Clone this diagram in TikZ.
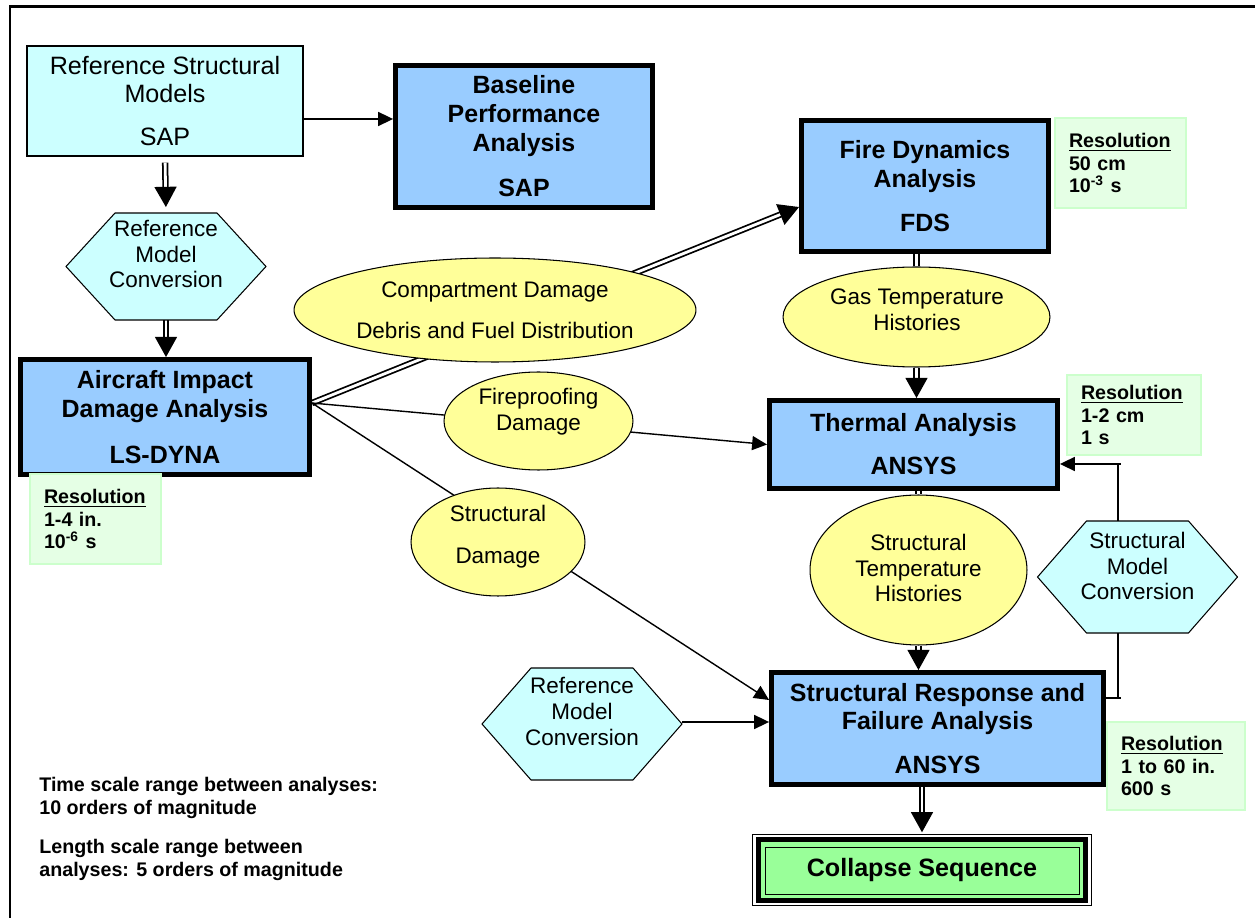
\documentclass[tikz,border=0pt]{standalone}
\usepackage{fontspec}
\setmainfont{Liberation Sans}
\usetikzlibrary{arrows.meta,shapes.geometric,calc,backgrounds}

\definecolor{boxblue}{HTML}{99CCFF}
\definecolor{boxcyan}{HTML}{CCFFFF}
\definecolor{ellyellow}{HTML}{FFFF99}
\definecolor{resgreen}{HTML}{E5FFE5}
\definecolor{resedge}{HTML}{CCFFCC}
\definecolor{seqgreen}{HTML}{99FF99}

\tikzset{
  analysis/.style={draw, line width=2.8pt, fill=boxblue, align=center, inner sep=0pt,
    font=\fontsize{14.2}{16.4}\selectfont\bfseries},
  refbox/.style={draw, line width=0.8pt, fill=boxcyan, align=center, inner sep=0pt,
    font=\fontsize{14.3}{16.4}\selectfont},
  convhex/.style={inner sep=0pt, outer sep=0pt, minimum width=4cm},
  hexline/.style={draw, line width=0.6pt, fill=boxcyan},
  dataell/.style={ellipse, draw, line width=0.6pt, fill=ellyellow, inner sep=0pt},
  shapetext/.style={align=center, inner sep=0pt, font=\fontsize{12.8}{14.7}\selectfont},
  resbox/.style={draw=resedge, line width=0.6pt, fill=resgreen, align=left,
    text width=#1, inner xsep=0.28cm, inner ysep=0pt,
    font=\fontsize{11.2}{12.6}\selectfont\bfseries},
  seqbox/.style={draw, line width=2.8pt, fill=seqgreen, inner sep=0pt,
    font=\fontsize{14.3}{16.4}\selectfont\bfseries},
  note/.style={align=left, inner sep=0pt, anchor=west,
    font=\fontsize{11.2}{12.6}\selectfont\bfseries},
  arr/.style={line width=0.8pt, -{Triangle[length=8.5pt,width=8pt]}},
  dbl/.style={double, double distance=1.6pt, line width=1pt},
  dblarr/.style={dbl, -{Triangle[length=11.5pt,width=12.5pt]}},
}

% hexagon drawn round an (invisible) conversion node
\newcommand{\hexround}[1]{%
  \filldraw[hexline] (#1.west) -- ($(#1.north west)+(49,0)$) -- ($(#1.north east)+(-49,0)$)
    -- (#1.east) -- ($(#1.south east)+(-49,0)$) -- ($(#1.south west)+(49,0)$) -- cycle;}

\begin{document}
\begin{tikzpicture}[x={(0.02cm,0)}, y={(0,-0.02cm)}]
  \useasboundingbox (0,0) rectangle (1255,918);
  \clip (0,0) rectangle (1255,918);

  % Outer frame, runs off the page at right and bottom
  \draw[line width=1.7pt] (10,940) -- (10,7) -- (1280,7);

  % Models and analyses
  \node[refbox, minimum width=5.52cm, minimum height=2.2cm] (refmod) at (165,101) {Reference Structural\\Models\\[8pt]SAP};
  \node[analysis, minimum width=5.14cm, minimum height=2.84cm] (baseline) at (524,136.5) {Baseline\\Performance\\Analysis\\[9.5pt]SAP};
  \node[analysis, minimum width=5.78cm, minimum height=2.3cm] (aircraft) at (165,417) {Aircraft Impact\\Damage Analysis\\[10pt]LS-DYNA};
  \node[analysis, minimum width=4.94cm, minimum height=2.62cm] (fds) at (925,186) {Fire Dynamics\\Analysis\\[8.5pt]FDS};
  \node[analysis, minimum width=5.76cm, minimum height=1.76cm] (thermal) at (913.5,444.5) {Thermal Analysis\\[8pt]ANSYS};
  \node[analysis, minimum width=6.64cm, minimum height=2.24cm] (response) at (937.5,728.5) {Structural Response and\\Failure Analysis\\[8.5pt]ANSYS};

  % Model conversions
  \node[convhex, minimum height=2.14cm] (conv1) at (166,266.5) {};
  \node[convhex, minimum height=2.24cm] (conv2) at (582,724) {};
  \node[convhex, minimum height=2.24cm] (conv3) at (1137.5,577) {};
  \hexround{conv1}
  \hexround{conv2}
  \hexround{conv3}
  \node[shapetext] (conv1txt) at (166,254) {Reference\\Model\\Conversion};
  \node[shapetext] (conv2txt) at (582,711.5) {Reference\\Model\\Conversion};
  \node[shapetext] (conv3txt) at (1137.5,566) {Structural\\Model\\Conversion};

  % Data handed between analyses
  \node[dataell, minimum width=8.04cm, minimum height=2.08cm] (ellcomp) at (495,310) {};
  \node[dataell, minimum width=5.34cm, minimum height=2cm] (ellgas) at (916.5,317) {};
  \node[dataell, minimum width=3.78cm, minimum height=1.96cm] (ellfire) at (538.5,421) {};
  \node[dataell, minimum width=3.48cm, minimum height=2.16cm] (ellstruct) at (498,542) {};
  \node[dataell, minimum width=4.34cm, minimum height=3cm] (elltemp) at (918.5,570) {};
  \node[shapetext] (ellcomptxt) at (495,310) {Compartment Damage\\[8.5pt]Debris and Fuel Distribution};
  \node[shapetext] (ellgastxt) at (917,310) {Gas Temperature\\Histories};
  \node[shapetext] (ellfiretxt) at (538.5,412) {Fireproofing\\Damage};
  \node[shapetext] (ellstructtxt) at (498,537) {Structural\\[9pt]Damage};
  \node[shapetext] (elltemptxt) at (918.5,568) {Structural\\Temperature\\Histories};

  % Resolution of each analysis
  \node[resbox=2.06cm, minimum height=1.8cm] (res1) at (95.5,519) {\underline{Resolution}\\1-4 in.\\10\textsuperscript{-6} s};
  \node[resbox=2.06cm, minimum height=1.8cm] (res2) at (1120.5,163) {\underline{Resolution}\\50 cm\\10\textsuperscript{-3} s};
  \node[resbox=2.12cm, minimum height=1.6cm] (res3) at (1134,415) {\underline{Resolution}\\1-2 cm\\1 s};
  \node[resbox=2.2cm, minimum height=1.76cm] (res4) at (1176,766) {\underline{Resolution}\\1 to 60 in.\\600 s};

  % Final result
  \node[seqbox, minimum width=6.55cm, minimum height=1.21cm] (collapse) at (922,870) {Collapse Sequence};
  \draw[line width=0.6pt] ($(collapse.north west)+(-3,-3)$) rectangle ($(collapse.south east)+(3,3)$);
  \draw[line width=0.6pt] ($(collapse.north west)+(10,10)$) rectangle ($(collapse.south east)+(-9,-8)$);

  % Scale notes
  \node[note] (timenote) at (39,798) {Time scale range between analyses:\\10 orders of magnitude};
  \node[note] (lengthnote) at (39,860) {Length scale range between\\analyses: 5 orders of magnitude};

  % Connectors, behind the shapes
  \begin{pgfonlayer}{background}
    \coordinate (aout) at ($(aircraft.east)+(0,-14)$);
    \draw[arr] ($(refmod.east)+(0,18)$) -- ($(baseline.west)+(0,-17.5)$);
    \draw[dblarr, shorten <=3.4pt, shorten >=3.4pt] (refmod.south) -- (conv1.north);
    \draw[dblarr] (conv1.south) -- (conv1.south |- aircraft.north);
    \draw[dblarr] (aout) -- ($(fds.west)+(0,21)$);
    \draw[arr] (aout) -- (thermal.west);
    \draw[arr] (aout) -- ($(response.west)+(0,-28.5)$);
    \draw[dbl] (ellgas.north |- fds.south) -- (ellgas.north);
    \draw[dblarr] (ellgas.south) -- (ellgas.south |- thermal.north);
    \draw[dbl] (elltemp.north |- thermal.south) -- (elltemp.north);
    \draw[dblarr] (elltemp.south) -- (elltemp.south |- response.north);
    \draw[arr] ($(conv2.east)+(0,-2)$) -- ($(response.west)+(0,-6.5)$);
    \draw[dblarr] (collapse.north |- response.south) -- ($(collapse.north)+(0,-5)$);
    % loop back from the response analysis to the thermal analysis
    \draw[line width=0.8pt] ($(response.east)+(0,-30.5)$) -- ++(15,0);
    \draw[arr] ($(response.east)+(12,-30.5)$) |- ($(thermal.east)+(0,19.5)$);
    \draw[line width=0.8pt] ($(thermal.east)+(58,19.5)$) -- ++(3,0);
  \end{pgfonlayer}
\end{tikzpicture}
\end{document}
